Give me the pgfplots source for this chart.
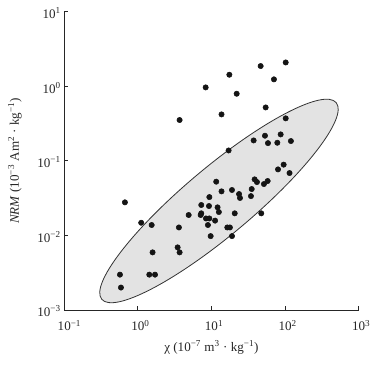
\documentclass[border=0pt]{standalone}
\usepackage{fontspec}
\setmainfont{Liberation Serif}
\usepackage{pgfplots}
\pgfplotsset{compat=1.18}

\begin{document}
\begin{tikzpicture}
\begin{axis}[
    at={(0,0)}, anchor=south west,
    scale only axis, width=220.8pt, height=223.7pt,
    xmode=log, ymode=log,
    xmin=0.1, xmax=1000, ymin=0.001, ymax=10,
    enlargelimits=false,
    axis lines=left, axis line style={-, line width=0.7pt, black!85},
    tick align=inside, major tick length=3pt,
    tick style={line width=0.7pt, black!85},
    xminorticks=false, yminorticks=false,
    xtick={0.1,1,10,100,1000},
    xticklabels={10\rlap{\textsuperscript{−1}}, 10\rlap{\textsuperscript{0}}, 10\rlap{\textsuperscript{1}}, 10\rlap{\textsuperscript{2}}, 10\rlap{\textsuperscript{3}}},
    ytick={0.001,0.01,0.1,1,10},
    yticklabels={10\textsuperscript{−3}, 10\textsuperscript{−2}, 10\textsuperscript{−1}, 10\textsuperscript{0}, 10\textsuperscript{1}},
    every tick label/.append style={font=\fontsize{9.8}{11}\selectfont, black!85},
    xticklabel style={yshift=-4pt},
    yticklabel style={xshift=1pt, yshift=-1pt},
    xlabel={χ (10\textsuperscript{−7} m\textsuperscript{3} · kg\textsuperscript{−1})},
    ylabel={\textit{NRM} (10\textsuperscript{−3} Am\textsuperscript{2} · kg\textsuperscript{−1})},
    label style={font=\fontsize{9.8}{11}\selectfont, black!85},
    xlabel style={at={(axis description cs:0.5,0)}, anchor=center, yshift=-27.8pt},
    ylabel style={at={(axis description cs:0,0.5)}, anchor=center, yshift=37pt},
]
% confidence ellipse drawn behind the samples
\draw[fill=black!11, draw=black!80, line width=0.6pt,
      rotate around={40:(axis cs:12.65,0.029)}]
    (axis cs:12.65,0.029) ellipse [x radius=114.75pt, y radius=25.5pt];

\addplot[only marks, mark=*, mark size=2pt, color=black!92] coordinates {
    (102,2.09) (46.6,1.87) (17.5,1.43) (70.6,1.24) (8.34,0.967)
    (22.0,0.795) (54.5,0.521) (13.7,0.42) (3.69,0.353) (102,0.372)
    (37.4,0.188) (53.3,0.2175) (58.6,0.173) (78.5,0.175) (87.1,0.2265)
    (120,0.1845) (17.1,0.138) (95.7,0.089) (80.2,0.0769) (115,0.0687)
    (11.6,0.0526) (38.6,0.0565) (41.5,0.052) (58,0.0537) (51.6,0.0489)
    (35.2,0.0419) (19.0,0.0407) (13.7,0.039) (23.7,0.0359) (24.4,0.0318)
    (34.4,0.0337) (9.36,0.0327) (7.27,0.0256) (9.25,0.0248) (12.1,0.0238)
    (12.6,0.0206) (7.27,0.0198) (7.13,0.0188) (4.90,0.0188) (20.7,0.0198)
    (47.5,0.0198) (8.42,0.0169) (9.36,0.0169) (11.2,0.0158) (8.95,0.0138)
    (16.4,0.0128) (17.8,0.0128) (3.61,0.0128) (1.54,0.0138) (1.11,0.0148)
    (9.75,0.0098) (19.0,0.0098) (0.667,0.0278) (3.47,0.00692) (3.69,0.00593)
    (1.585,0.00593) (0.571,0.00298) (1.43,0.00298) (1.71,0.00298) (0.589,0.0020)
};
\end{axis}
% fix the page to the reference proportions
\path (-48.2pt,-41.25pt) rectangle (239.8pt,232.5pt);
\end{tikzpicture}
\end{document}
